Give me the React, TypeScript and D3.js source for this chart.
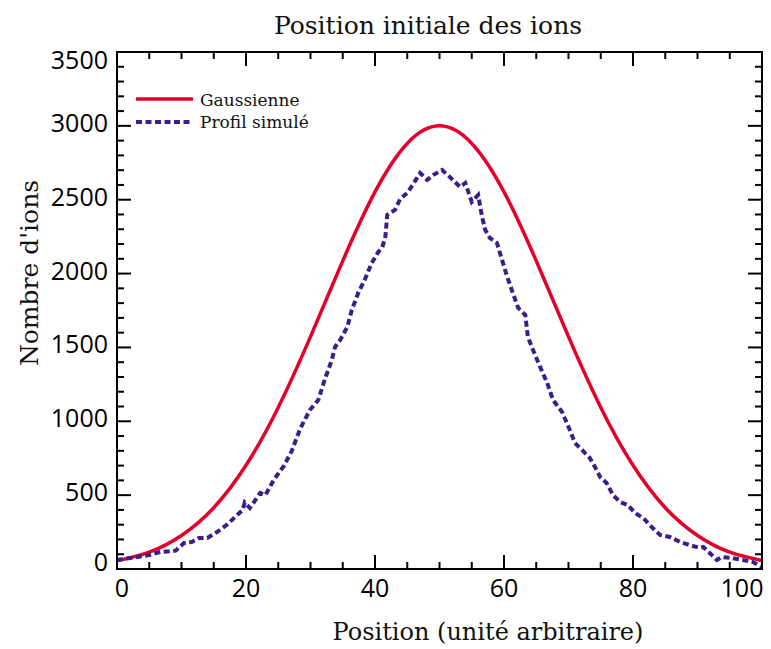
import React from 'react';
import * as d3 from 'd3';

// Courbe gaussienne théorique (tous les 5)
const gaussX = [0, 5, 10, 15, 20, 25, 30, 35, 40, 45, 50, 55, 60, 65, 70, 75, 80, 85, 90, 95, 100];
const gaussY = [55, 114, 227, 415, 702, 1094, 1573, 2086, 2553, 2881, 3000, 2881, 2553, 2086, 1573, 1094, 702, 415, 227, 114, 58];

// Profil simulé
const profileX = [
  0, 3.1, 5, 6.7, 9.1, 10.4, 11.6, 12.7, 14, 15.5, 17, 18.3, 19.5, 19.8, 20.6, 22.2, 23, 24.3, 25.9, 27.1,
  28.4, 29.9, 31.2, 32.2, 33.3, 33.8, 34.6, 35.7, 36.4, 37.4, 38.4, 39.5, 40.5, 41.1, 41.6, 41.9, 43.1, 43.9,
  45, 45.9, 47, 48.1, 49, 50.4, 51.6, 53.2, 54, 55, 56, 56.6, 57.1, 57.8, 58.9, 59.7, 60.5, 61.2, 62.2, 63.3,
  63.7, 64.5, 65.6, 66.7, 67.6, 69, 70.2, 71, 72.1, 73.3, 74.1, 74.9, 75.9, 76.9, 78, 79.2, 80.3, 81.6, 82.9,
  84.2, 85.7, 87.3, 88.8, 90.4, 90.9, 91.9, 93, 93.8, 95.3, 97, 98.6, 100,
];
const profileY = [
  61, 81, 95, 115, 124, 176, 183, 210, 210, 250, 298, 352, 400, 450, 413, 514, 500, 603, 700, 800,
  950, 1076, 1144, 1280, 1415, 1503, 1550, 1638, 1753, 1869, 1957, 2072, 2146, 2173, 2248, 2397, 2431, 2505,
  2546, 2605, 2681, 2634, 2667, 2701, 2654, 2586, 2613, 2485, 2532, 2383, 2295, 2241, 2207, 2092, 1977, 1889, 1767, 1720,
  1571, 1483, 1368, 1259, 1144, 1063, 941, 853, 806, 752, 691, 623, 582, 501, 454, 433, 379, 345, 284,
  230, 217, 183, 162, 142, 149, 108, 61, 81, 74, 61, 47, 14,
];

const xMajor = [0, 20, 40, 60, 80, 100];
const yMajor = [0, 500, 1000, 1500, 2000, 2500, 3000, 3500];

const W = 771;
const H = 649;
const margin = { left: 117, right: 9, top: 52, bottom: 80 };

const RED = '#e3002b';
const PURPLE = '#3b1e8a';
const SERIF = '"DejaVu Serif", "Liberation Serif", serif';
const SANS = '"Open Sans", "Noto Sans", sans-serif';

export default function App() {
  const x = d3.scaleLinear().domain([0, 100]).range([margin.left, W - margin.right]);
  const y = d3.scaleLinear().domain([0, 3500]).range([H - margin.bottom, margin.top]);
  const [x0, x1] = x.range();
  const [y0, y1] = y.range();

  const gaussLine = d3
    .line<number>()
    .x((_, i) => x(gaussX[i]))
    .y((d) => y(d))
    .curve(d3.curveNatural);
  const profLine = d3
    .line<number>()
    .x((_, i) => x(profileX[i]))
    .y((d) => y(d));

  const xMinor = d3.range(0, 101, 5).filter((v) => v % 20 !== 0);
  const yMinor = d3.range(0, 3501, 100).filter((v) => v % 500 !== 0);

  return (
    <div style={{ position: 'fixed', left: 0, top: 0 }}>
      <svg width={W} height={H} style={{ display: 'block', background: '#fff' }}>
        <text x={428} y={34} textAnchor="middle" fontFamily={SERIF} fontSize={25} fill="#111">
          Position initiale des ions
        </text>

        <defs>
          <clipPath id="plot">
            <rect x={x0} y={y1} width={x1 - x0} height={y0 - y1} />
          </clipPath>
        </defs>

        <g clipPath="url(#plot)">
          <path d={gaussLine(gaussY) || ''} fill="none" stroke={RED} strokeWidth={3.5} />
          <path
            d={profLine(profileY) || ''}
            fill="none"
            stroke={PURPLE}
            strokeWidth={4}
            strokeDasharray="6 3.5"
          />
        </g>

        {/* cadre */}
        <rect x={x0} y={y1} width={x1 - x0} height={y0 - y1} fill="none" stroke="#000" strokeWidth={2} />

        {/* graduations x */}
        {xMajor.map((v) => (
          <g key={'xM' + v}>
            <line x1={x(v)} x2={x(v)} y1={y0} y2={y0 - 14} stroke="#000" strokeWidth={2} />
            <line x1={x(v)} x2={x(v)} y1={y1} y2={y1 + 14} stroke="#000" strokeWidth={2} />
            <text
              x={Math.min(Math.max(x(v), x0 + 5), x1 - 20)}
              y={597}
              textAnchor="middle"
              fontFamily={SANS}
              fontSize={25}
              fontWeight={500}
              fill="#000"
            >
              {v}
            </text>
          </g>
        ))}
        {xMinor.map((v) => (
          <g key={'xm' + v}>
            <line x1={x(v)} x2={x(v)} y1={y0} y2={y0 - 7} stroke="#000" strokeWidth={2} />
            <line x1={x(v)} x2={x(v)} y1={y1} y2={y1 + 7} stroke="#000" strokeWidth={2} />
          </g>
        ))}

        {/* graduations y */}
        {yMajor.map((v) => (
          <g key={'yM' + v}>
            <line x1={x0} x2={x0 + 14} y1={y(v)} y2={y(v)} stroke="#000" strokeWidth={2} />
            <line x1={x1} x2={x1 - 14} y1={y(v)} y2={y(v)} stroke="#000" strokeWidth={2} />
            <text
              x={108}
              y={Math.min(Math.max(y(v) - 3, y1 + 8), y0 - 7)}
              dy="0.36em"
              textAnchor="end"
              fontFamily={SANS}
              fontSize={25}
              fontWeight={500}
              fill="#000"
            >
              {v}
            </text>
          </g>
        ))}
        {yMinor.map((v) => (
          <g key={'ym' + v}>
            <line x1={x0} x2={x0 + 7} y1={y(v)} y2={y(v)} stroke="#000" strokeWidth={2} />
            <line x1={x1} x2={x1 - 7} y1={y(v)} y2={y(v)} stroke="#000" strokeWidth={2} />
          </g>
        ))}

        {/* titres des axes */}
        <text x={488} y={640} textAnchor="middle" fontFamily={SERIF} fontSize={24} fill="#111">
          Position (unité arbitraire)
        </text>
        <text
          transform={`translate(38,273) rotate(-90)`}
          textAnchor="middle"
          fontFamily={SERIF}
          fontSize={25}
          fill="#111"
        >
          Nombre d'ions
        </text>

        {/* légende */}
        <line x1={136} x2={193} y1={99} y2={99} stroke={RED} strokeWidth={3.5} />
        <text x={200} y={106} fontFamily={SERIF} fontSize={17} fill="#111">
          Gaussienne
        </text>
        <line x1={136} x2={193} y1={122} y2={122} stroke={PURPLE} strokeWidth={4} strokeDasharray="6 3.5" />
        <text x={200} y={128} fontFamily={SERIF} fontSize={17} fill="#111">
          Profil simulé
        </text>
      </svg>
    </div>
  );
}
